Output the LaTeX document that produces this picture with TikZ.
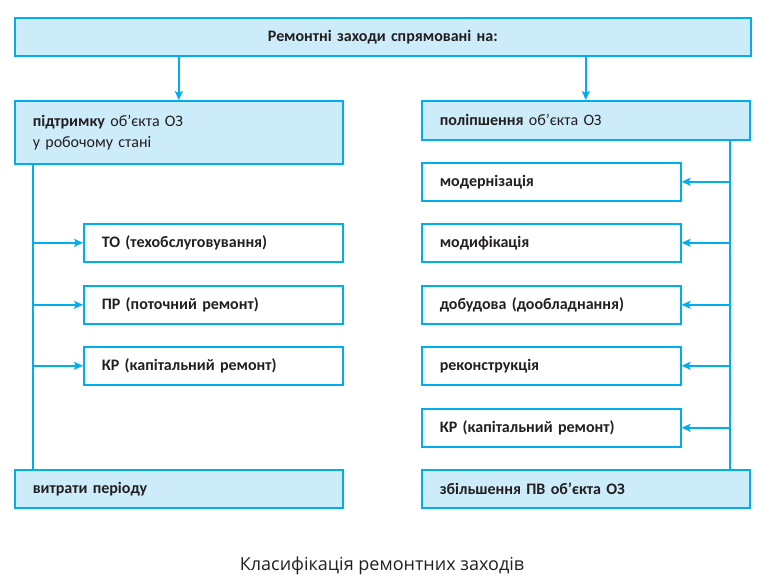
\documentclass[tikz,border=0pt]{standalone}
\usepackage{fontspec}
\setmainfont{Carlito}
\newfontfamily\capfont{Open Sans}
\usetikzlibrary{arrows.meta}
\definecolor{ozblue}{RGB}{0,174,239}
\definecolor{ozfill}{RGB}{204,236,250}
\definecolor{oztext}{RGB}{35,31,32}

\begin{document}
\begin{tikzpicture}[x=1pt,y=-1pt,
	box/.style={shape=rectangle,draw=ozblue,line width=1.6pt,anchor=north west,align=left,
		inner xsep=18pt,inner ysep=0pt,text=oztext,font=\fontsize{16}{21}\selectfont\bfseries},
	wide/.style={box,text width=292pt,minimum height=38pt},
	narrow/.style={box,text width=223pt,minimum height=38pt},
	shade/.style={fill=ozfill},
	link/.style={draw=ozblue,line width=1.6pt},
	arrow/.style={link,-{Stealth[length=9pt,width=8pt,inset=2pt]}}]
	\useasboundingbox (0,0) rectangle (766,588);

	\node[box,shade,text width=700pt,minimum height=38pt,align=center] (top) at (14,17) {Ремонтні заходи спрямовані на:};
	\node[wide,shade,minimum height=63pt] (keep) at (14,100) {підтримку \mdseries об’єкта ОЗ\\\mdseries у робочому стані};
	\node[wide,shade,minimum height=39pt] (improve) at (421,100) {поліпшення \mdseries об’єкта ОЗ};

	\node[narrow] (to)  at (83,223) {ТО (техобслуговування)};
	\node[narrow] (pr)  at (83,285) {ПР (поточний ремонт)};
	\node[narrow] (krl) at (83,346) {КР (капітальний ремонт)};
	\node[wide,shade] (cost) at (14,469) {витрати періоду};

	\node[narrow] (modern) at (421,162) {модернізація};
	\node[narrow] (modif)  at (421,223) {модифікація};
	\node[narrow] (build)  at (421,285) {добудова (дообладнання)};
	\node[narrow] (recon)  at (421,346) {реконструкція};
	\node[narrow] (krr)    at (421,408) {КР (капітальний ремонт)};
	\node[wide,shade] (grow) at (421,469) {збільшення ПВ об’єкта ОЗ};

	\node[font=\capfont\fontsize{18}{22}\selectfont,text=oztext] (caption) at (382,566) {Класифікація ремонтних заходів};

	\coordinate (lbus) at (33,0);
	\coordinate (rbus) at (730,0);

	\draw[arrow] (keep.north |- top.south) -- (keep.north);
	\draw[arrow] (improve.north |- top.south) -- (improve.north);

	\draw[link] (lbus |- keep.south) -- (lbus |- cost.north);
	\foreach \n in {to,pr,krl}
		\draw[arrow] (lbus |- \n.west) -- (\n.west);

	\draw[link] (rbus |- improve.south) -- (rbus |- grow.north);
	\foreach \n in {modern,modif,build,recon,krr}
		\draw[arrow] (rbus |- \n.east) -- (\n.east);
\end{tikzpicture}
\end{document}
